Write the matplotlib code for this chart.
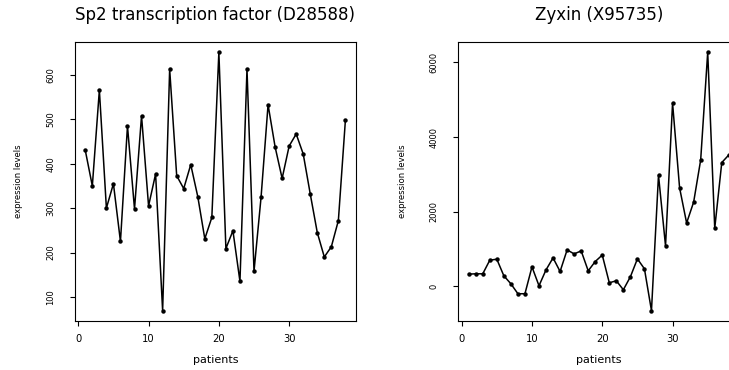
import matplotlib
matplotlib.use("Agg")
import matplotlib.pyplot as plt

# expression levels per patient
patients = list(range(1, 39))
sp2_levels = [430, 350, 566, 300, 355, 225, 485, 298, 508, 305,
              377, 69, 613, 373, 344, 398, 326, 231, 279, 651,
              209, 249, 135, 613, 158, 324, 533, 438, 367, 440,
              467, 422, 332, 245, 190, 213, 272, 498]
zyxin_levels = [329, 338, 338, 702, 729, 284, 71, -196, -196, 524,
                18, 444, 764, 400, 978, 871, 951, 418, 667, 840,
                98, 151, -89, 258, 738, 471, -649, 2978, 1084, 4907,
                2640, 1698, 2258, 3387, 6267, 1556, 3316, 3520]

titles = ["Sp2 transcription factor (D28588)", "Zyxin (X95735)"]
x_ticks = [0, 10, 20, 30]
y_ticks = [[100, 200, 300, 400, 500, 600], [0, 2000, 4000, 6000]]

W, H = 729, 370
fig = plt.figure(figsize=(W / 100, H / 100), dpi=100)

# panel boxes in pixels (left, top); the right one runs past the image edge
box_w, box_h = 280.9, 279.0
boxes = [(74.9, 42.0), (458.3, 42.0)]

for k, (levels, (px, py)) in enumerate(zip([sp2_levels, zyxin_levels], boxes)):
    ax = fig.add_axes([px / W, (H - py - box_h) / H, box_w / W, box_h / H])
    ax.plot(patients, levels, color="black", lw=1.1,
            marker="o", markersize=3.2, markeredgewidth=0)
    ax.margins(x=0.04, y=0.04)

    ax.set_xticks(x_ticks)
    ax.set_yticks(y_ticks[k])
    for sp in ax.spines.values():
        sp.set_linewidth(0.8)
        sp.set_color("black")
    ax.tick_params(axis="both", direction="out", length=3.6, width=0.8, color="black")
    ax.tick_params(axis="x", labelsize=7.2, pad=6)
    ax.tick_params(axis="y", labelsize=6, pad=10.5, labelrotation=90)
    for lab in ax.get_yticklabels():
        lab.set_va("center")

    ax.set_xlabel("patients", fontsize=8.0, va="center")
    ax.xaxis.set_label_coords(0.5, -39 / box_h)
    ax.set_ylabel("expression levels", fontsize=6.1, va="center")
    ax.yaxis.set_label_coords(-(56 / box_w), 0.5)
    ax.set_title(titles[k], fontsize=12, pad=16)

fig.savefig("out.png", dpi=100)
